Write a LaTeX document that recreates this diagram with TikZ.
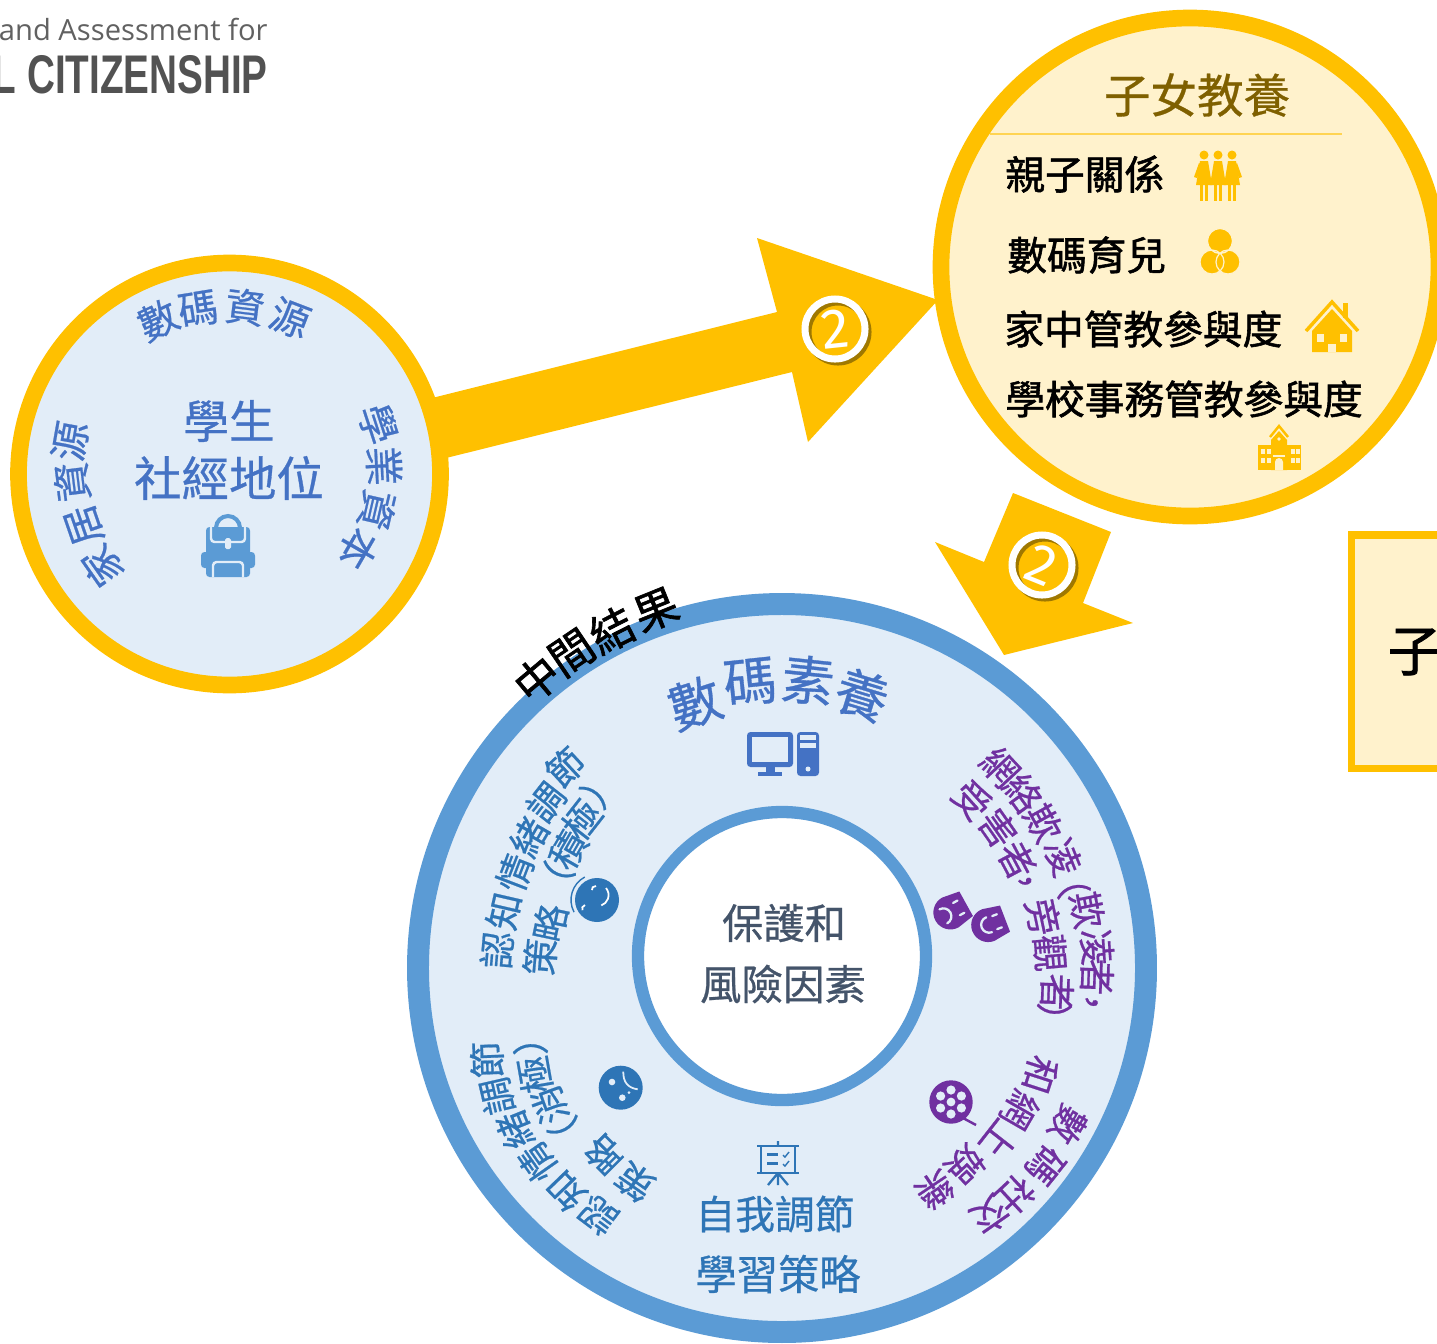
\documentclass[tikz,border=0pt]{standalone}
\usepackage{fontspec}
\setmainfont{Noto Sans CJK TC}[FakeBold=0.6]
\newfontfamily\heavycjk{Noto Sans CJK TC}[FakeBold=1.4]
\newfontfamily\logofont{Open Sans}
\newfontfamily\capsfont{Liberation Sans}
\newfontfamily\numfont{Fira Sans}

\definecolor{gold}{HTML}{FFC000}
\definecolor{cream}{HTML}{FFF2CC}
\definecolor{darkgold}{HTML}{7F6000}
\definecolor{ringblue}{HTML}{5B9BD5}
\definecolor{paleblue}{HTML}{E2EDF8}
\definecolor{indigo}{HTML}{4472C4}
\definecolor{midblue}{HTML}{2E75B6}
\definecolor{violet}{HTML}{7030A0}
\definecolor{slate}{HTML}{44546A}

\tikzset{
  gold_ring/.style={draw=gold, line width=9.5pt, fill=cream},
  arc_res/.style={text=indigo, font=\fontsize{22.5}{22.5}\selectfont, inner sep=0pt},
  arc_big/.style={text=indigo, font=\fontsize{30}{30}\selectfont, inner sep=0pt},
  arc_blue/.style={text=midblue, font=\fontsize{21}{21}\selectfont, inner sep=0pt},
  arc_violet/.style={text=violet, font=\fontsize{21}{21}\selectfont, inner sep=0pt},
  arc_title/.style={text=black, font=\heavycjk\fontsize{25}{25}\selectfont, inner sep=0pt},
  list_item/.style={anchor=west, inner sep=0pt, font=\heavycjk\fontsize{22.6}{22.6}\selectfont},
  badge_ring/.style={draw=white, line width=4pt},
  badge_shade/.style={draw=darkgold!75!gold, line width=4pt},
  badge_num/.style={text=white, inner sep=0pt, font=\numfont\fontsize{32}{32}\selectfont},
}

\begin{document}
\begin{tikzpicture}[x=0.02cm, y=-0.02cm]
    \useasboundingbox (0,0) rectangle (1437,1343);
    \clip (0,0) rectangle (1437,1343);

    % logo, cut by the page edge
    \node[anchor=east, inner sep=0pt, text=black!62, font=\logofont\fontsize{16.6}{16.6}\selectfont] (logoa) at (268,29) {and Assessment for};
    \node[anchor=east, inner sep=0pt, text=black!68, xscale=0.71, font=\capsfont\bfseries\fontsize{31}{31}\selectfont] (logob) at (268,75) {L CITIZENSHIP};

    % arrows
    \fill[gold] (420,401) -- (777,312) -- (757,238) -- (938,300) -- (808,442) -- (792,372) -- (430,462) -- cycle;
    \fill[gold] (1013,493) -- (1111,532) -- (1083,603) -- (1133,623) -- (1004,655) -- (935,542) -- (984,562) -- cycle;

    % circles
    \draw[gold_ring, fill=paleblue] (229.5,474) circle (211);
    \draw[gold_ring] (1190,267) circle (249);
    \draw[draw=ringblue, fill=paleblue, line width=12.5pt] (782,968) circle (364);
    \draw[draw=ringblue, fill=white, line width=7pt] (782,956) circle (144);

    % badges
    \draw[badge_shade] (838,332) circle (30);
    \draw[badge_ring] (835,329) circle (30);
    \node[badge_num, rotate=6] (numa) at (835,329) {2};
    \draw[badge_shade] (1045,568) circle (30);
    \draw[badge_ring] (1042,565) circle (30);
    \node[badge_num, rotate=-22] (numb) at (1042,565) {2};

    % student circle
    \foreach \ch/\px/\py/\rot [count=\i] in {數/158/320/25, 碼/198/309/9, 資/245/307/-7, 源/290/318/-21}
        \node[arc_res, rotate=\rot] (res\i) at (\px,\py) {\ch};
    \foreach \ch/\px/\py/\rot [count=\i] in {家/102/566/125, 居/84/525/109, 資/72/482/97, 源/70/441/80}
        \node[arc_res, rotate=\rot] (home\i) at (\px,\py) {\ch};
    \foreach \ch/\px/\py/\rot [count=\i] in {學/378/424/-72, 業/384/466/-87, 資/377/510/-103, 本/358/549/-120}
        \node[arc_res, rotate=\rot] (study\i) at (\px,\py) {\ch};
    \node[text=indigo, inner sep=0pt, font=\fontsize{26}{26}\selectfont] (ses) at (229,421) {學生};
    \node[text=indigo, inner sep=0pt, font=\fontsize{27}{27}\selectfont] (sesb) at (229,478) {社經地位};

    % backpack
    \fill[ringblue, rounded corners=2pt] (206,527) rectangle (250,577);
    \fill[ringblue, rounded corners=2pt] (201,552) rectangle (255,568);
    \draw[ringblue, line width=2.3pt] (216,528) arc[start angle=180, end angle=360, radius=12];
    \draw[paleblue, line width=1.4pt, rounded corners=2pt] (211,526) -- (211,542) -- (245,542) -- (245,526);
    \fill[paleblue, rounded corners=1pt] (225,538) rectangle (231,549);
    \draw[paleblue, line width=1.4pt, rounded corners=2pt] (213,577) -- (213,562) -- (243,562) -- (243,577);

    % parenting circle
    \node[text=darkgold, inner sep=0pt, font=\fontsize{26.5}{26.5}\selectfont] (parent) at (1197,95) {子女教養};
    \coordinate (rulea) at (990,134);
    \coordinate (ruleb) at (1342,134);
    \draw[draw=gold!60!cream, line width=1pt] (rulea) -- (ruleb);
    \node[list_item] (itema) at (1005,174) {親子關係};
    \node[list_item] (itemb) at (1007,255) {數碼育兒};
    \node[list_item] (itemc) at (1004,329) {家中管教參與度};
    \node[list_item] (itemd) at (1005,399) {學校事務管教參與度};

    % family
    \foreach \px in {1204,1218,1232} {
        \fill[gold] (\px,155) circle (4.5);
        \fill[gold] (\px-4,161) -- (\px+4,161) -- (\px+8,185) -- (\px-8,185) -- cycle;
        \fill[gold] (\px-4,185) rectangle (\px-1,201);
        \fill[gold] (\px+1,185) rectangle (\px+4,201);
    }
    \fill[gold] (1199,163) -- (1194,177) -- (1197,178) -- (1202,166) -- cycle;
    \fill[gold] (1237,163) -- (1242,177) -- (1239,178) -- (1234,166) -- cycle;
    % three rings
    \fill[gold] (1220,241) circle (12.5);
    \fill[gold] (1212,262) circle (12);
    \fill[gold] (1228,262) circle (12);
    \draw[cream, line width=0.7pt] (1220,241) circle (12.5) (1212,262) circle (12) (1228,262) circle (12);
    % house
    \draw[gold, line width=2pt] (1306,331) -- (1332,302) -- (1358,331);
    \fill[gold] (1343,303) rectangle (1348,318);
    \fill[gold] (1332,309) -- (1352,331) -- (1352,352) -- (1312,352) -- (1312,331) -- cycle;
    \fill[cream] (1317,334) rectangle (1324,342);
    \fill[cream] (1340,334) rectangle (1347,342);
    \fill[cream] (1328,344) rectangle (1336,352);
    % school
    \draw[gold, line width=1.4pt] (1270,437) -- (1279,426) -- (1288,437);
    \fill[gold] (1279,431) -- (1287,440) -- (1287,470) -- (1271,470) -- (1271,440) -- cycle;
    \fill[gold] (1258,445) rectangle (1301,470);
    \foreach \px in {1261,1267,1291,1296} {
        \fill[cream] (\px,449) rectangle +(3.5,5);
        \fill[cream] (\px,458) rectangle +(3.5,5);
    }
    \fill[cream] (1273,455) rectangle (1285,457);
    \fill[cream] (1275,470) -- (1275,462) arc[start angle=180, end angle=360, radius=4] -- (1283,470) -- cycle;
    \fill[cream] (1279,439) circle (1.8);

    % box on the right
    \draw[draw=gold, line width=4pt, fill=cream] (1351,535) rectangle (1500,768);
    \node[inner sep=0pt, text=black, font=\heavycjk\fontsize{31}{31}\selectfont] (kid) at (1415,652) {子};

    % outcomes ring
    \foreach \ch/\px/\py/\rot [count=\i] in {中/537/679/40, 間/572/653/34, 結/612/630/27, 果/656/610/22}
        \node[arc_title, rotate=\rot] (mid\i) at (\px,\py) {\ch};
    \foreach \ch/\px/\py/\rot [count=\i] in {數/695/703/18, 碼/750/682/6, 素/808/680/-6, 養/862/695/-17}
        \node[arc_big, rotate=\rot] (lit\i) at (\px,\py) {\ch};

    % computer
    \fill[indigo, rounded corners=2pt] (747,732) rectangle (793,767);
    \fill[paleblue] (752,737) rectangle (788,762);
    \fill[indigo] (766,767) rectangle (775,772);
    \fill[indigo] (758,772) rectangle (782,776);
    \fill[indigo, rounded corners=2pt] (797,732) rectangle (819,776);
    \fill[paleblue] (800,735) rectangle (816,740);
    \fill[paleblue] (800,743) rectangle (816,748);
    \fill[paleblue] (808,769) circle (2.5);

    % upper left
    \foreach \ch/\px/\py/\rot [count=\i] in {認/497/950/85, 知/504/911/77, 情/515/873/69, 緒/529/837/60, 調/546/802/52, 節/565/767/43}
        \node[arc_blue, rotate=\rot] (posa\i) at (\px,\py) {\ch};
    \foreach \ch/\px/\py/\rot [count=\i] in {策/540/957/85, 略/550/923/78, （/554/882/67, 積/568/850/60, 極/582/820/52, ）/602/787/50}
        \node[arc_blue, rotate=\rot] (posb\i) at (\px,\py) {\ch};
    \fill[midblue] (597,900) circle (22);
    \draw[white, line width=1pt] (606,888) arc[start angle=-40, end angle=70, radius=11];
    \draw[white, line width=1pt] (596,886) arc[start angle=-80, end angle=-190, radius=3.5];
    \draw[white, line width=1pt] (585,905) arc[start angle=-100, end angle=-210, radius=3.5];
    \draw[midblue, line width=0.8pt] (584.8,877) arc[start angle=-118, end angle=-208, radius=26];

    % upper right
    \foreach \ch/\px/\py/\rot [count=\i] in {網/1000/767/-47, 絡/1023/793/-54, 欺/1043/823/-61, 凌/1063/857/-68, （/1070/879/-74, 欺/1087/910/-79, 凌/1097/947/-86, 者/1097/977/-92, ，/1088/1002/-96}
        \node[arc_violet, rotate=\rot] (vica\i) at (\px,\py) {\ch};
    \foreach \ch/\px/\py/\rot [count=\i] in {受/972/800/-48, 害/998/828/-55, 者/1017/860/-62, ，/1022/883/-68, 旁/1043/917/-78, 觀/1050/953/-85, 者/1057/992/-92, ）/1054/1021/-92}
        \node[arc_violet, rotate=\rot] (vicb\i) at (\px,\py) {\ch};
    % masks
    \begin{scope}[shift={(953,911)}, rotate=-61]
        \fill[violet] (-14,-15) -- (14,-15) -- (17,3) arc[start angle=0, end angle=180, radius=17] -- cycle;
        \draw[paleblue, line width=1.3pt, line cap=round] (-7,-9) -- (-7,-4) (7,-9) -- (7,-4);
        \draw[paleblue, line width=1.3pt, line cap=round] (-8,11) arc[start angle=180, end angle=360, radius=8];
    \end{scope}
    \begin{scope}[shift={(991,924)}, rotate=-69]
        \fill[violet] (-14,-15) -- (14,-15) -- (17,3) arc[start angle=0, end angle=180, radius=17] -- cycle;
        \draw[paleblue, line width=1.3pt, line cap=round] (-7,-9) -- (-7,-4) (7,-9) -- (7,-4);
        \draw[paleblue, line width=1.3pt, line cap=round] (-8,2) arc[start angle=180, end angle=0, radius=8];
    \end{scope}

    % lower right
    \foreach \ch/\px/\py/\rot [count=\i] in {數/1068/1125/-120, 碼/1045/1165/-129, 社/1015/1195/-137, 交/990/1215/-145}
        \node[arc_violet, rotate=\rot] (soca\i) at (\px,\py) {\ch};
    \foreach \ch/\px/\py/\rot [count=\i] in {和/1040/1075/-108, 網/1020/1110/-120, 上/1000/1140/-128, 娛/965/1165/-137, 樂/935/1190/-146}
        \node[arc_violet, rotate=\rot] (socb\i) at (\px,\py) {\ch};
    % film reel
    \fill[violet] (951,1102) circle (21.7);
    \foreach \a in {30,90,150,210,270,330}
        \fill[paleblue] (951,1102) ++(\a:12) circle (4.6);
    \fill[paleblue] (951,1102) circle (4.4);
    \draw[violet, line width=1.4pt] (963,1118) -- (976,1125);

    % self regulation
    \draw[midblue, line width=1.3pt] (757,1146) -- (799,1146) (761,1146) -- (761,1173) (795,1146) -- (795,1173) (757,1173) -- (799,1173);
    \draw[midblue, line width=1.3pt] (778,1141) -- (778,1146) (778,1173) -- (768,1185) (778,1173) -- (788,1185) (778,1173) -- (778,1185);
    \fill[midblue] (767,1153) rectangle (778,1156);
    \fill[midblue] (767,1162) rectangle (778,1165);
    \draw[midblue, line width=0.8pt] (783,1155) -- (785,1157) -- (789,1152) (783,1164) -- (785,1166) -- (789,1161);
    \node[text=midblue, inner sep=0pt, font=\fontsize{22.6}{22.6}\selectfont] (srla) at (775,1214) {自我調節};
    \node[text=midblue, inner sep=0pt, font=\fontsize{23.5}{23.5}\selectfont] (srlb) at (778,1274) {學習策略};

    % lower left
    \foreach \ch/\px/\py/\rot [count=\i] in {認/598/1215/143, 知/566/1191/134, 情/538/1162/125, 緒/515/1130/112, 調/497/1096/103, 節/487/1060/92}
        \node[arc_blue, rotate=\rot] (nega\i) at (\px,\py) {\ch};
    \foreach \ch/\px/\py/\rot [count=\i] in {策/635/1182/145, 略/604/1155/135, （/569/1137/118, 消/550/1105/110, 極/535/1075/100, ）/530/1037/92}
        \node[arc_blue, rotate=\rot] (negb\i) at (\px,\py) {\ch};
    \fill[midblue] (620.7,1087.7) circle (22);
    \draw[paleblue, line width=1pt] (623.3,1071.7) .. controls (623,1082) and (628,1088) .. (637.7,1089.3);
    \fill[paleblue] (612,1082) circle (3.3);
    \fill[paleblue] (622.3,1097.7) circle (3.3);
    \fill[paleblue] (629,1092.7) circle (1.5);

    % protective factors
    \node[text=slate, inner sep=0pt, font=\fontsize{23.5}{23.5}\selectfont] (prota) at (784,923) {保護和};
    \node[text=slate, inner sep=0pt, font=\fontsize{23.6}{23.6}\selectfont] (protb) at (783,984) {風險因素};
\end{tikzpicture}
\end{document}
